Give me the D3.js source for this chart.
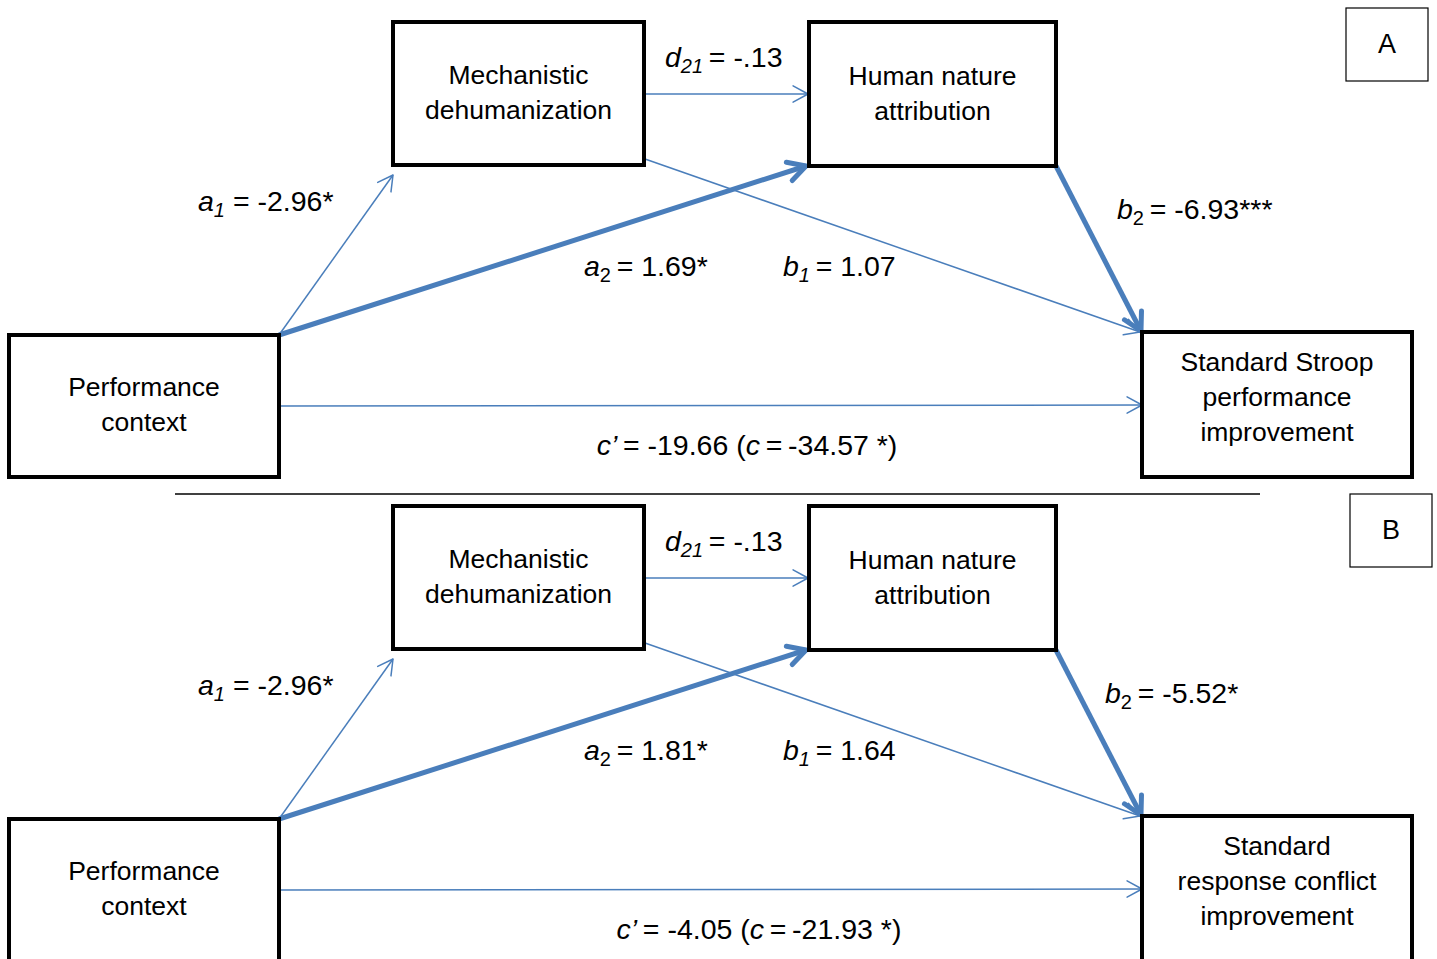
<!DOCTYPE html>
<html>
<head>
<meta charset="utf-8">
<script src="https://cdn.jsdelivr.net/npm/d3@7"></script>
<style>
  body { margin: 0; background: #fff; }
  text { font-family: "Liberation Sans", Arial, sans-serif; fill: #000; }
</style>
</head>
<body>
<div id="chart"></div>
<script>
const width = 1437;
const height = 959;

// data
const panels = ["A", "B"];
const nodeIds = ["perf", "mech", "human", "outcome"];
const nodeLinesA = [["Performance", "context"], ["Mechanistic", "dehumanization"], ["Human nature", "attribution"], ["Standard Stroop", "performance", "improvement"]];
const nodeLinesB = [["Performance", "context"], ["Mechanistic", "dehumanization"], ["Human nature", "attribution"], ["Standard", "response conflict", "improvement"]];
const pathIds = ["a1", "a2", "d21", "b1", "b2", "c"];
const pathSymbol = ["a", "a", "d", "b", "b", "c’"];
const pathSub = ["1", "2", "21", "1", "2", ""];
const pathFrom = ["perf", "perf", "mech", "mech", "human", "perf"];
const pathTo = ["mech", "human", "human", "outcome", "outcome", "outcome"];
const pathBold = [false, true, false, false, true, false];
const coefA = ["-2.96*", "1.69*", "-.13", "1.07", "-6.93***", "-19.66"];
const coefB = ["-2.96*", "1.81*", "-.13", "1.64", "-5.52*", "-4.05"];
const totalA = "-34.57 *";
const totalB = "-21.93 *";

// layout (panel A coordinates, panel B is shifted down)
const panelShift = [0, 484];
const box = {
  perf:    { x: 9,    y: 335, w: 270, h: 142, ty: 404 },
  mech:    { x: 393,  y: 22,  w: 251, h: 143, ty: 91.5 },
  human:   { x: 809,  y: 22,  w: 247, h: 144, ty: 92.5 },
  outcome: { x: 1142, y: 332, w: 270, h: 145, ty: 396 }
};
const ends = {
  a1:  [[279, 335], [393, 175]],
  a2:  [[279, 335], [806, 166]],
  d21: [[645, 94], [808, 94]],
  b1:  [[645, 159], [1140, 332]],
  b2:  [[1056, 166], [1141, 331]],
  c:   [[279, 406], [1142, 405]]
};
const labelPos = [
  { x: 198, y: 211, anchor: "start" },
  { x: 584, y: 276, anchor: "start" },
  { x: 665, y: 67, anchor: "start" },
  { x: 783, y: 276, anchor: "start" },
  { x: [1117, 1105], y: 219, anchor: "start" },
  { x: [747, 759], y: 455, anchor: "middle" }
];
const letterBox = [{ x: 1346, y: 8 }, { x: 1350, y: 494 }];

const blue = "#4A7EBB";

const svg = d3.select("#chart")
  .append("svg")
  .attr("width", width)
  .attr("height", height);

const line = d3.line();

function arrowHead(p0, p1, len, spread) {
  const ang = Math.atan2(p1[1] - p0[1], p1[0] - p0[0]);
  const l = [p1[0] - len * Math.cos(ang - spread), p1[1] - len * Math.sin(ang - spread)];
  const r = [p1[0] - len * Math.cos(ang + spread), p1[1] - len * Math.sin(ang + spread)];
  return [l, p1, r];
}

panels.forEach((pid, pi) => {
  const dy = panelShift[pi];
  const g = svg.append("g").attr("transform", `translate(0,${dy})`);
  const lines = pi === 0 ? nodeLinesA : nodeLinesB;
  const coef = pi === 0 ? coefA : coefB;

  // paths
  pathIds.forEach((id, i) => {
    const [p0, p1] = ends[id];
    const bold = pathBold[i];
    const sw = bold ? 5 : 1.5;
    g.append("path")
      .attr("d", line([p0, p1]))
      .attr("stroke", blue)
      .attr("stroke-width", sw)
      .attr("fill", "none");
    g.append("path")
      .attr("d", line(arrowHead(p0, p1, bold ? 20 : 17, 0.5)))
      .attr("stroke", blue)
      .attr("stroke-width", sw)
      .attr("stroke-linecap", "round")
      .attr("stroke-linejoin", "round")
      .attr("fill", "none");
  });

  // boxes
  nodeIds.forEach((id, i) => {
    const b = box[id];
    g.append("rect")
      .attr("x", b.x).attr("y", b.y)
      .attr("width", b.w).attr("height", b.h)
      .attr("fill", "#fff")
      .attr("stroke", "#000")
      .attr("stroke-width", 4);
    const n = lines[i].length;
    lines[i].forEach((s, k) => {
      g.append("text")
        .attr("x", b.x + b.w / 2)
        .attr("y", b.ty + (k - (n - 1) / 2) * 35 + 9.5)
        .attr("text-anchor", "middle")
        .attr("font-size", 26.5)
        .text(s);
    });
  });

  // coefficient labels
  pathIds.forEach((id, i) => {
    const lp = labelPos[i];
    const x = Array.isArray(lp.x) ? lp.x[pi] : lp.x;
    const t = g.append("text")
      .attr("x", x)
      .attr("y", lp.y)
      .attr("text-anchor", lp.anchor)
      .attr("font-size", 28.5);
    t.append("tspan").attr("font-style", "italic").text(pathSymbol[i]);
    if (pathSub[i]) {
      t.append("tspan")
        .attr("font-size", 20)
        .attr("dy", 6)
        .attr("font-style", pathSub[i] === "2" ? "normal" : "italic")
        .text(pathSub[i]);
      t.append("tspan").attr("dy", -6).text(id === "a1" ? " = " + coef[i] : "\u2009= " + coef[i]);
    } else {
      t.append("tspan").text("\u2009= " + coef[i] + " (");
      t.append("tspan").attr("font-style", "italic").text("c");
      t.append("tspan").text("\u2009=\u2009" + (pi === 0 ? totalA : totalB) + ")");
    }
  });

  // panel letter
  const lb = letterBox[pi];
  svg.append("rect")
    .attr("x", lb.x).attr("y", lb.y)
    .attr("width", 82).attr("height", 73)
    .attr("fill", "none")
    .attr("stroke", "#000")
    .attr("stroke-width", 1.2);
  svg.append("text")
    .attr("x", lb.x + 41).attr("y", lb.y + 45)
    .attr("text-anchor", "middle")
    .attr("font-size", 27)
    .text(pid);
});

// divider
svg.append("line")
  .attr("x1", 175).attr("x2", 1260)
  .attr("y1", 494).attr("y2", 494)
  .attr("stroke", "#000")
  .attr("stroke-width", 1.5);
</script>
</body>
</html>
